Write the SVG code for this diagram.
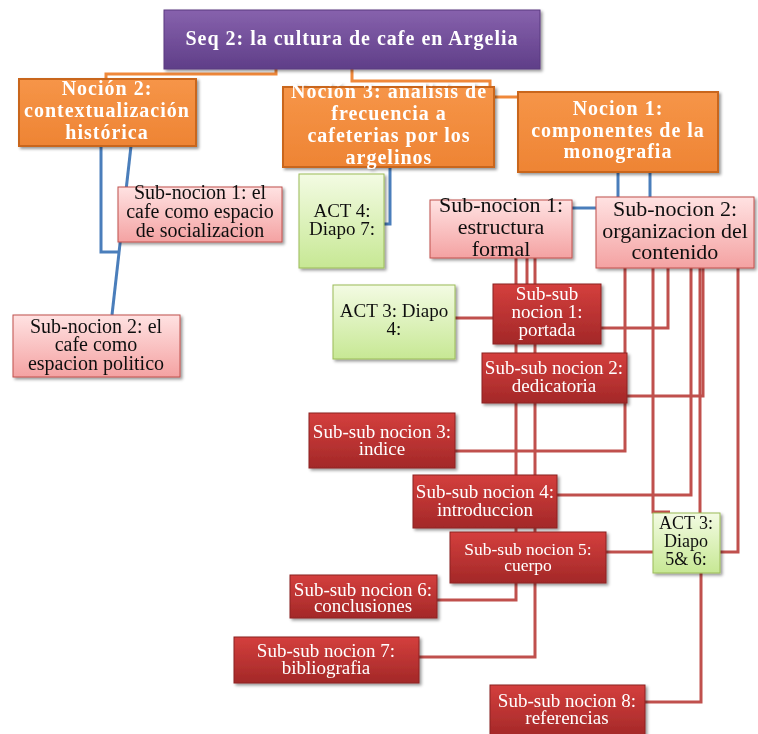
<svg xmlns="http://www.w3.org/2000/svg" width="758" height="734" viewBox="0 0 758 734">
<style>
.bt{font-family:"Liberation Serif","Times New Roman",serif;font-weight:bold;font-size:20px;fill:#fff;letter-spacing:1px;text-anchor:middle}
.pt{font-family:"Liberation Serif","Times New Roman",serif;font-size:20px;fill:#111;text-anchor:middle}
.rt{font-family:"Liberation Serif","Times New Roman",serif;font-size:19px;fill:#fff;text-anchor:middle}
.gt{font-family:"Liberation Serif","Times New Roman",serif;font-size:19px;fill:#111;text-anchor:middle}
.purple{fill:url(#gP);stroke:#5a3a80;stroke-width:1}
.orange{fill:url(#gO);stroke:#c9661f;stroke-width:2}
.pink{fill:url(#gK);stroke:#c0504d;stroke-width:1}
.red{fill:url(#gR);stroke:#8c2222;stroke-width:1}
.green{fill:url(#gG);stroke:#9bbb59;stroke-width:1}
.co{fill:none;stroke:#f0883a;stroke-width:3}
.cb{fill:none;stroke:#4a7ebb;stroke-width:3}
.cr{fill:none;stroke:#c0504d;stroke-width:3}
</style>
<defs>
<linearGradient id="gP" x1="0" y1="0" x2="0" y2="1"><stop offset="0" stop-color="#8762ad"/><stop offset="1" stop-color="#5f3e88"/></linearGradient>
<linearGradient id="gO" x1="0" y1="0" x2="0" y2="1"><stop offset="0" stop-color="#f69548"/><stop offset="1" stop-color="#ee8434"/></linearGradient>
<linearGradient id="gK" x1="0" y1="0" x2="0" y2="1"><stop offset="0" stop-color="#ffe2e2"/><stop offset="1" stop-color="#f4a2a2"/></linearGradient>
<linearGradient id="gR" x1="0" y1="0" x2="0" y2="1"><stop offset="0" stop-color="#d43f3d"/><stop offset="1" stop-color="#a32828"/></linearGradient>
<linearGradient id="gG" x1="0" y1="0" x2="0" y2="1"><stop offset="0" stop-color="#f3fbe3"/><stop offset="1" stop-color="#c7e894"/></linearGradient>
<filter id="sh" x="-10%" y="-10%" width="130%" height="140%"><feDropShadow dx="2" dy="2" stdDeviation="1.5" flood-color="#000" flood-opacity="0.4"/></filter>
</defs>
<rect width="758" height="734" fill="#fff"/>
<g id="connectors">
<path class="co" d="M276,69 V74 H106 V79"/>
<path class="co" d="M352,69 V81 H490 V87"/>
<path class="co" d="M490,97 H518"/>
<path class="cb" d="M101,146 V252 H119"/>
<path class="cb" d="M131,146 L112,315"/>
<path class="cb" d="M390,167 V224 H384"/>
<path class="cb" d="M618,172 V197"/>
<path class="cb" d="M650,172 V197"/>
<path class="cb" d="M572,208 H596"/>
<path class="cr" d="M527,258 V284"/>
<path class="cr" d="M516,258 V600 H437"/>
<path class="cr" d="M535,258 V657 H419"/>
<path class="cr" d="M455,318 H493"/>
<path class="cr" d="M668,268 V328 H601"/>
<path class="cr" d="M703,268 V396 H627"/>
<path class="cr" d="M625,268 V451 H455"/>
<path class="cr" d="M691,268 V495 H557"/>
<path class="cr" d="M653,268 V512 H670"/>
<path class="cr" d="M700,268 V513"/>
<path class="cr" d="M606,552 H653"/>
<path class="cr" d="M701,573 V702 H645"/>
<path class="cr" d="M738,268 V552 H720"/>
</g>
<g id="title" filter="url(#sh)"><rect class="purple" x="164" y="10" width="376" height="59"/><text class="bt" x="352" y="45">Seq 2: la cultura de cafe en Argelia</text></g>
<g id="nocion2" filter="url(#sh)"><rect class="orange" x="19" y="79" width="177" height="67"/><text class="bt" x="107" y="95">Noción 2:</text><text class="bt" x="107" y="117">contextualización</text><text class="bt" x="107" y="139">histórica</text></g>
<g id="nocion3" filter="url(#sh)"><rect class="orange" x="283" y="87" width="211" height="80"/><text class="bt" x="389" y="98">Noción 3: analisis de</text><text class="bt" x="389" y="120">frecuencia a</text><text class="bt" x="389" y="142">cafeterias por los</text><text class="bt" x="389" y="164">argelinos</text></g>
<g id="nocion1" filter="url(#sh)"><rect class="orange" x="518" y="92" width="200" height="80"/><text class="bt" x="618" y="115">Nocion 1:</text><text class="bt" x="618" y="137">componentes de la</text><text class="bt" x="618" y="158">monografia</text></g>
<g id="act4" filter="url(#sh)"><rect class="green" x="299" y="174" width="85" height="94"/><text class="gt" x="342" y="217">ACT 4:</text><text class="gt" x="342" y="235">Diapo 7:</text></g>
<g id="subnocion1-izq" filter="url(#sh)"><rect class="pink" x="118" y="187" width="164" height="55"/><text class="pt" x="200" y="199">Sub-nocion 1: el</text><text class="pt" x="200" y="218">cafe como espacio</text><text class="pt" x="200" y="237">de socializacion</text></g>
<g id="subnocion2-izq" filter="url(#sh)"><rect class="pink" x="13" y="315" width="167" height="62"/><text class="pt" x="96" y="333">Sub-nocion 2: el</text><text class="pt" x="96" y="351">cafe como</text><text class="pt" x="96" y="370">espacion politico</text></g>
<g id="subnocion1" filter="url(#sh)"><rect class="pink" x="430" y="200" width="142" height="58"/><text class="pt" x="501" y="212" style="font-size:22px">Sub-nocion 1:</text><text class="pt" x="501" y="234" style="font-size:22px">estructura</text><text class="pt" x="501" y="256" style="font-size:22px">formal</text></g>
<g id="subnocion2" filter="url(#sh)"><rect class="pink" x="596" y="197" width="158" height="71"/><text class="pt" x="675" y="216" style="font-size:22px">Sub-nocion 2:</text><text class="pt" x="675" y="238" style="font-size:22px">organizacion del</text><text class="pt" x="675" y="259" style="font-size:22px">contenido</text></g>
<g id="act3-diapo4" filter="url(#sh)"><rect class="green" x="333" y="285" width="122" height="74"/><text class="gt" x="394" y="317">ACT 3: Diapo</text><text class="gt" x="394" y="335">4:</text></g>
<g id="ss1" filter="url(#sh)"><rect class="red" x="493" y="284" width="108" height="60"/><text class="rt" x="547" y="300">Sub-sub</text><text class="rt" x="547" y="318">nocion 1:</text><text class="rt" x="547" y="336">portada</text></g>
<g id="ss2" filter="url(#sh)"><rect class="red" x="482" y="353" width="145" height="50"/><text class="rt" x="554" y="374">Sub-sub nocion 2:</text><text class="rt" x="554" y="392">dedicatoria</text></g>
<g id="ss3" filter="url(#sh)"><rect class="red" x="309" y="413" width="146" height="55"/><text class="rt" x="382" y="438">Sub-sub nocion 3:</text><text class="rt" x="382" y="455">indice</text></g>
<g id="ss4" filter="url(#sh)"><rect class="red" x="413" y="475" width="144" height="53"/><text class="rt" x="485" y="498">Sub-sub nocion 4:</text><text class="rt" x="485" y="516">introduccion</text></g>
<g id="ss5" filter="url(#sh)"><rect class="red" x="450" y="532" width="156" height="51"/><text class="rt" x="528" y="555" style="font-size:17.5px">Sub-sub nocion 5:</text><text class="rt" x="528" y="571" style="font-size:17.5px">cuerpo</text></g>
<g id="ss6" filter="url(#sh)"><rect class="red" x="290" y="575" width="147" height="43"/><text class="rt" x="363" y="596">Sub-sub nocion 6:</text><text class="rt" x="363" y="612">conclusiones</text></g>
<g id="ss7" filter="url(#sh)"><rect class="red" x="234" y="637" width="185" height="46"/><text class="rt" x="326" y="657">Sub-sub nocion 7:</text><text class="rt" x="326" y="674">bibliografia</text></g>
<g id="ss8" filter="url(#sh)"><rect class="red" x="490" y="685" width="155" height="52"/><text class="rt" x="567" y="707">Sub-sub nocion 8:</text><text class="rt" x="567" y="724">referencias</text></g>
<g id="act3-diapo56" filter="url(#sh)"><rect class="green" x="653" y="513" width="67" height="60"/><text class="gt" x="686" y="529" style="font-size:18px">ACT 3:</text><text class="gt" x="686" y="547" style="font-size:18px">Diapo</text><text class="gt" x="686" y="565" style="font-size:18px">5&amp; 6:</text></g>
</svg>
